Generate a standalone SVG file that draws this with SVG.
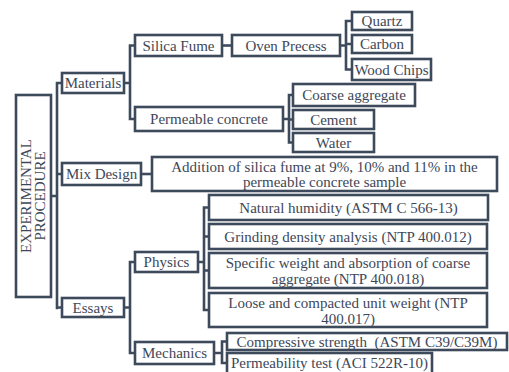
<svg xmlns="http://www.w3.org/2000/svg" width="509" height="372" viewBox="0 0 509 372">
<style>
.b{fill:#fff;stroke:#3d4a5c;stroke-width:2.6}
.c{fill:none;stroke:#3d4a5c;stroke-width:2.6;stroke-linejoin:miter;stroke-linecap:square}
text{font-family:"Liberation Serif","Times New Roman",serif;font-size:15px;fill:#3e4758;text-anchor:middle}
</style>
<rect width="509" height="372" fill="#fff"/>
<g id="connectors">
<path class="c" d="M51,196 H57 M57,83 V308 M57,83 H62 M57,174 H62 M57,307.5 H62"/>
<path class="c" d="M124,83 H130 M130,45.5 V119 M130,45.5 H135 M130,119 H135"/>
<path class="c" d="M222,45.5 H232"/>
<path class="c" d="M340,45.5 H346 M346,21 V69.5 M346,21 H352 M346,44 H352 M346,69.5 H352"/>
<path class="c" d="M283,119 H289 M289,95 V142.5 M289,95 H293 M289,119.5 H293 M289,142.5 H293"/>
<path class="c" d="M141,174 H152"/>
<path class="c" d="M124,307.5 H130 M130,262 V353 M130,262 H135 M130,353 H135"/>
<path class="c" d="M198,262 H204 M204,207.5 V310 M204,207.5 H209 M204,236.5 H209 M204,270.5 H209 M204,310 H209"/>
<path class="c" d="M214,353 H222 M222,341.5 V363 M222,341.5 H227 M222,363 H227"/>
</g>
<g id="experimental">
<rect class="b" x="16" y="95" width="35" height="202" stroke-width="3"/>
<g transform="translate(33.5,196) rotate(-90)">
<text x="0" y="-2.5" font-size="14.4">EXPERIMENTAL</text>
<text x="0" y="11.5" font-size="14.4">PROCEDURE</text>
</g>
</g>
<g id="materials"><rect class="b" x="62" y="73" width="62" height="20"/><text x="93" y="88">Materials</text></g>
<g id="mixdesign"><rect class="b" x="62" y="163" width="79" height="22"/><text x="101.5" y="179">Mix Design</text></g>
<g id="essays"><rect class="b" x="62" y="298" width="62" height="19"/><text x="93" y="312.5">Essays</text></g>
<g id="silica"><rect class="b" x="135" y="35" width="87" height="21"/><text x="178.5" y="50.5">Silica Fume</text></g>
<g id="permeable"><rect class="b" x="135" y="107" width="148" height="24"/><text x="209" y="124">Permeable concrete</text></g>
<g id="oven"><rect class="b" x="232" y="35" width="108" height="21"/><text x="286" y="50.5">Oven Precess</text></g>
<g id="quartz"><rect class="b" x="352" y="12" width="60" height="18"/><text x="382" y="26">Quartz</text></g>
<g id="carbon"><rect class="b" x="352" y="35" width="60" height="18"/><text x="382" y="49">Carbon</text></g>
<g id="woodchips"><rect class="b" x="352" y="59" width="79" height="21"/><text x="391.5" y="74.5">Wood Chips</text></g>
<g id="coarse"><rect class="b" x="293" y="84" width="122" height="22"/><text x="354" y="100">Coarse aggregate</text></g>
<g id="cement"><rect class="b" x="293" y="110" width="81" height="19"/><text x="333.5" y="124.5">Cement</text></g>
<g id="water"><rect class="b" x="293" y="133" width="81" height="19"/><text x="333.5" y="147.5">Water</text></g>
<g id="addition"><rect class="b" x="152" y="157" width="345" height="34"/><text x="324.5" y="172">Addition of silica fume at 9%, 10% and 11% in the</text><text x="324.5" y="187">permeable concrete sample</text></g>
<g id="physics"><rect class="b" x="135" y="252" width="63" height="20"/><text x="166.5" y="267">Physics</text></g>
<g id="mechanics"><rect class="b" x="135" y="342" width="79" height="22"/><text x="174.5" y="358">Mechanics</text></g>
<g id="humidity"><rect class="b" x="209" y="195" width="279" height="25"/><text x="348.5" y="212.5">Natural humidity (ASTM C 566-13)</text></g>
<g id="grinding"><rect class="b" x="209" y="224" width="278" height="25"/><text x="348" y="241.5">Grinding density analysis (NTP 400.012)</text></g>
<g id="specific"><rect class="b" x="209" y="253" width="278" height="35"/><text x="348" y="268">Specific weight and absorption of coarse</text><text x="348" y="284">aggregate (NTP 400.018)</text></g>
<g id="loose"><rect class="b" x="209" y="293" width="278" height="34"/><text x="348" y="308">Loose and compacted unit weight (NTP</text><text x="348" y="324">400.017)</text></g>
<g id="compressive"><rect class="b" x="227" y="333" width="280" height="17"/><text x="367" y="346.5" xml:space="preserve">Compressive strength  (ASTM C39/C39M)</text></g>
<g id="permeability"><rect class="b" x="227" y="353" width="205" height="21"/><text x="329.5" y="368">Permeability test (ACI 522R-10)</text></g>
</svg>
